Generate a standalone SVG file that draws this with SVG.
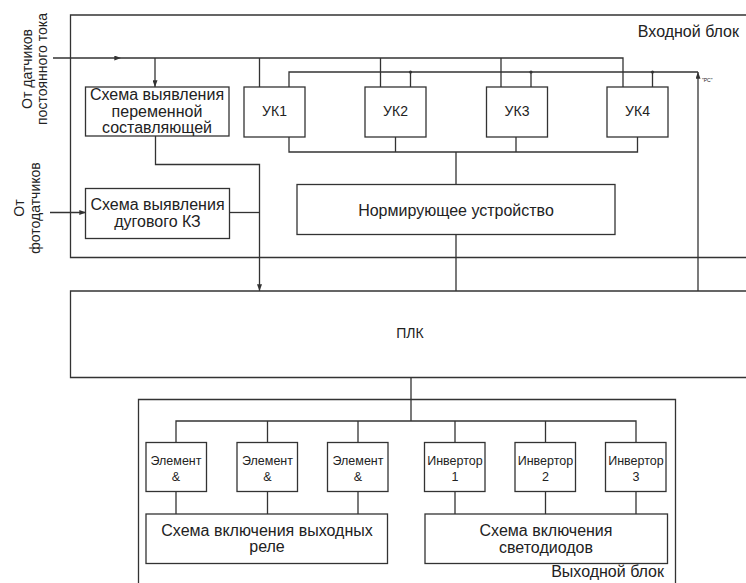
<svg xmlns="http://www.w3.org/2000/svg" width="746" height="583" viewBox="0 0 746 583">
<defs>
<marker id="arr" viewBox="0 0 8 6" refX="8" refY="3" markerWidth="7" markerHeight="5" markerUnits="userSpaceOnUse" orient="auto"><path d="M0,0 L8,3 L0,6 z" fill="#333"/></marker>
<style>
.box{fill:#fff;stroke:#333;stroke-width:1.3}
.frame{fill:none;stroke:#333;stroke-width:1.3}
.ln{fill:none;stroke:#333;stroke-width:1.3}
.arr{marker-end:url(#arr)}
.dot{fill:#333}
text{font-family:"Liberation Sans",Arial,sans-serif;fill:#222}
.c{text-anchor:middle}
.f16{font-size:16px}
.f14{font-size:14px}
.f12{font-size:12.5px}
.f5{font-size:5px}
</style>
</defs>
<rect width="746" height="583" fill="#fff"/>

<g id="input-block">
<path class="frame" d="M746,15 H70.5 V257.5 H746"/>
<text class="f16" x="739" y="37" text-anchor="end">Входной блок</text>
</g>

<g id="label-dc">
<text class="f14 c" transform="translate(32,69) rotate(-90)">От датчиков</text>
<text class="f14 c" transform="translate(47,69) rotate(-90)">постоянного тока</text>
</g>
<g id="label-photo">
<text class="f14 c" transform="translate(24,208) rotate(-90)">От</text>
<text class="f14 c" transform="translate(40,208) rotate(-90)">фотодатчиков</text>
</g>

<g id="connectors">
<path class="ln arr" d="M53,58 H121"/>
<path class="ln" d="M121,58 H623 V87"/>
<path class="ln arr" d="M155,58 V87"/>
<path class="ln" d="M259.5,58 V87 M380.5,58 V87 M501,58 V87"/>
<path class="ln arr" d="M698,291 V72"/>
<path class="ln" d="M698,72 H289 V87 M410.5,72 V87 M531,72 V87 M652.5,72 V87"/>
<circle class="dot" cx="410.5" cy="72" r="1.6"/>
<circle class="dot" cx="531" cy="72" r="1.6"/>
<circle class="dot" cx="652.5" cy="72" r="1.6"/>
<path class="ln" d="M289,137 V152 H637.5 V137 M395.5,137 V152 M516,137 V152 M456,152 V184.5 M456,234.5 V291"/>
<path class="ln arr" d="M155.5,136 V164.5 H259.5 V291"/>
<path class="ln" d="M229.5,212.5 H259.5"/>
<path class="ln arr" d="M50,212.5 H86"/>
<path class="ln" d="M411,377.5 V421 M176,442.5 V421 H636 V442.5 M267.5,421 V442.5 M358,421 V442.5 M455,421 V442.5 M545.5,421 V442.5"/>
<path class="ln" d="M176,491.5 V514 M267.5,491.5 V514 M358,491.5 V514 M455,491.5 V514 M545.5,491.5 V514 M636,491.5 V514"/>
</g>
<text class="f5" x="702" y="82">"PC"</text>

<g id="ac-detector">
<rect class="box" x="85.5" y="87" width="143.5" height="49"/>
<text class="f16 c" x="157" y="100">Схема выявления</text>
<text class="f16 c" x="157" y="116.5">переменной</text>
<text class="f16 c" x="157" y="133">составляющей</text>
</g>
<g id="arc-detector">
<rect class="box" x="85.5" y="188.5" width="144" height="50"/>
<text class="f16 c" x="157.5" y="209.5">Схема выявления</text>
<text class="f16 c" x="157.5" y="227">дугового КЗ</text>
</g>
<g id="uk1"><rect class="box" x="244" y="87" width="61" height="50"/><text class="f14 c" x="274.5" y="116">УК1</text></g>
<g id="uk2"><rect class="box" x="365" y="87" width="61" height="50"/><text class="f14 c" x="395.5" y="116">УК2</text></g>
<g id="uk3"><rect class="box" x="486.5" y="87" width="61" height="50"/><text class="f14 c" x="517" y="116">УК3</text></g>
<g id="uk4"><rect class="box" x="607" y="87" width="61" height="50"/><text class="f14 c" x="637.5" y="116">УК4</text></g>
<g id="normalizer">
<rect class="box" x="297" y="184.5" width="318" height="50"/>
<text class="f16 c" x="456" y="216">Нормирующее устройство</text>
</g>
<g id="plc">
<path class="box" d="M746,291 H70.5 V377.5 H746"/>
<text class="f14 c" x="410" y="338">ПЛК</text>
</g>

<g id="output-block">
<path class="frame" d="M138.5,590 V399.5 H675.5 V590"/>
<text class="f16" x="664" y="577" text-anchor="end">Выходной блок</text>
</g>
<g id="and1"><rect class="box" x="146" y="442.5" width="60.5" height="49"/><text class="f12 c" x="176" y="465">Элемент</text><text class="f12 c" x="176" y="481">&amp;</text></g>
<g id="and2"><rect class="box" x="237" y="442.5" width="60.5" height="49"/><text class="f12 c" x="267.5" y="465">Элемент</text><text class="f12 c" x="267.5" y="481">&amp;</text></g>
<g id="and3"><rect class="box" x="327.5" y="442.5" width="60.5" height="49"/><text class="f12 c" x="358" y="465">Элемент</text><text class="f12 c" x="358" y="481">&amp;</text></g>
<g id="inv1"><rect class="box" x="424.5" y="442.5" width="60.5" height="49"/><text class="f12 c" x="455" y="465">Инвертор</text><text class="f12 c" x="455" y="481">1</text></g>
<g id="inv2"><rect class="box" x="515" y="442.5" width="60.5" height="49"/><text class="f12 c" x="545.5" y="465">Инвертор</text><text class="f12 c" x="545.5" y="481">2</text></g>
<g id="inv3"><rect class="box" x="605.5" y="442.5" width="60.5" height="49"/><text class="f12 c" x="636" y="465">Инвертор</text><text class="f12 c" x="636" y="481">3</text></g>
<g id="relay-circuit">
<rect class="box" x="146" y="514" width="241.5" height="49.5"/>
<text class="f16 c" x="267" y="535.5">Схема включения выходных</text>
<text class="f16 c" x="267" y="552">реле</text>
</g>
<g id="led-circuit">
<rect class="box" x="425" y="514" width="242.5" height="49.5"/>
<text class="f16 c" x="546" y="536">Схема включения</text>
<text class="f16 c" x="546" y="552.5">светодиодов</text>
</g>
</svg>
